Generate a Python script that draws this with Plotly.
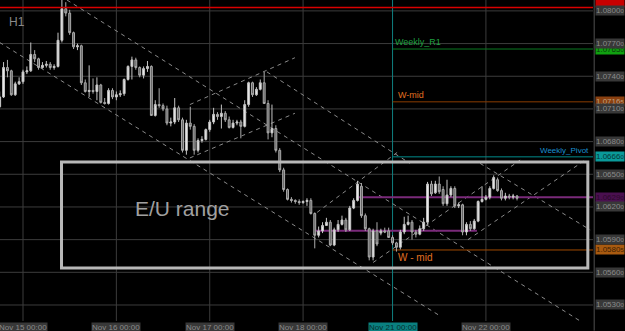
import plotly.graph_objects as go

# ---------------- data (EUR/USD, H1) ----------------
opens = [1.0712, 1.0721, 1.0748, 1.0745, 1.0723, 1.0733, 1.0735, 1.0744, 1.0745, 1.0760,
         1.0756, 1.0748, 1.0750, 1.0751, 1.0748, 1.0749, 1.0773, 1.0802, 1.0798, 1.0780,
         1.0767, 1.0768, 1.0734, 1.0726, 1.0727, 1.0726, 1.0732, 1.0716, 1.0715, 1.0727,
         1.0721, 1.0723, 1.0724, 1.0737, 1.0749, 1.0755, 1.0748, 1.0741, 1.0747, 1.0749,
         1.0704, 1.0714, 1.0713, 1.0710, 1.0697, 1.0698, 1.0711, 1.0700, 1.0672, 1.0697,
         1.0694, 1.0672, 1.0681, 1.0682, 1.0691, 1.0698, 1.0705, 1.0703, 1.0706, 1.0700,
         1.0693, 1.0697, 1.0698, 1.0694, 1.0714, 1.0734, 1.0723, 1.0728, 1.0734, 1.0715,
         1.0688, 1.0692, 1.0672, 1.0654, 1.0636, 1.0627, 1.0626, 1.0625, 1.0624, 1.0625,
         1.0626, 1.0614, 1.0594, 1.0598, 1.0603, 1.0606, 1.0585, 1.0599, 1.0604, 1.0608,
         1.0599, 1.0619, 1.0626, 1.0639, 1.0612, 1.0600, 1.0574, 1.0598, 1.0596, 1.0598,
         1.0598, 1.0592, 1.0587, 1.0583, 1.0597, 1.0604, 1.0606, 1.0597, 1.0595, 1.0600,
         1.0606, 1.0641, 1.0633, 1.0641, 1.0636, 1.0623, 1.0631, 1.0637, 1.0621, 1.0622,
         1.0597, 1.0604, 1.0600, 1.0607, 1.0625, 1.0627, 1.0629, 1.0637, 1.0645, 1.0635,
         1.0628, 1.0630, 1.0629, 1.0630]
highs = [1.0726, 1.0753, 1.0755, 1.0746, 1.0735, 1.0739, 1.0746, 1.0749, 1.0771, 1.0764,
         1.0757, 1.0753, 1.0754, 1.0753, 1.0751, 1.0780, 1.0813, 1.0808, 1.0801, 1.0781,
         1.0770, 1.0769, 1.0737, 1.0750, 1.0738, 1.0739, 1.0733, 1.0720, 1.0729, 1.0729,
         1.0726, 1.0727, 1.0738, 1.0750, 1.0758, 1.0757, 1.0749, 1.0749, 1.0754, 1.0750,
         1.0718, 1.0729, 1.0715, 1.0713, 1.0702, 1.0720, 1.0713, 1.0702, 1.0700, 1.0712,
         1.0696, 1.0683, 1.0685, 1.0692, 1.0700, 1.0711, 1.0707, 1.0714, 1.0708, 1.0703,
         1.0700, 1.0700, 1.0700, 1.0718, 1.0735, 1.0735, 1.0730, 1.0737, 1.0744, 1.0718,
         1.0714, 1.0695, 1.0674, 1.0656, 1.0637, 1.0629, 1.0627, 1.0627, 1.0626, 1.0628,
         1.0628, 1.0615, 1.0602, 1.0606, 1.0610, 1.0608, 1.0601, 1.0608, 1.0612, 1.0610,
         1.0621, 1.0628, 1.0644, 1.0642, 1.0614, 1.0601, 1.0600, 1.0606, 1.0600, 1.0601,
         1.0601, 1.0594, 1.0588, 1.0599, 1.0611, 1.0612, 1.0608, 1.0599, 1.0603, 1.0610,
         1.0643, 1.0644, 1.0644, 1.0648, 1.0639, 1.0645, 1.0639, 1.0639, 1.0624, 1.0623,
         1.0606, 1.0607, 1.0609, 1.0626, 1.0639, 1.0631, 1.0639, 1.0649, 1.0647, 1.0637,
         1.0633, 1.0632, 1.0632, 1.0631]
lows = [1.0711, 1.0720, 1.0739, 1.0722, 1.0722, 1.0732, 1.0733, 1.0742, 1.0744, 1.0753,
        1.0746, 1.0747, 1.0748, 1.0746, 1.0746, 1.0748, 1.0771, 1.0795, 1.0778, 1.0765,
        1.0764, 1.0732, 1.0725, 1.0721, 1.0724, 1.0718, 1.0715, 1.0714, 1.0714, 1.0719,
        1.0718, 1.0721, 1.0722, 1.0736, 1.0737, 1.0746, 1.0739, 1.0738, 1.0744, 1.0704,
        1.0703, 1.0711, 1.0708, 1.0695, 1.0694, 1.0696, 1.0698, 1.0670, 1.0668, 1.0691,
        1.0668, 1.0670, 1.0679, 1.0681, 1.0689, 1.0696, 1.0700, 1.0692, 1.0698, 1.0692,
        1.0692, 1.0695, 1.0683, 1.0693, 1.0712, 1.0721, 1.0722, 1.0727, 1.0715, 1.0682,
        1.0684, 1.0670, 1.0652, 1.0634, 1.0626, 1.0624, 1.0623, 1.0622, 1.0623, 1.0621,
        1.0613, 1.0582, 1.0592, 1.0596, 1.0603, 1.0584, 1.0584, 1.0597, 1.0603, 1.0597,
        1.0598, 1.0618, 1.0625, 1.0610, 1.0598, 1.0571, 1.0571, 1.0584, 1.0594, 1.0596,
        1.0592, 1.0585, 1.0579, 1.0581, 1.0595, 1.0603, 1.0590, 1.0592, 1.0594, 1.0598,
        1.0604, 1.0630, 1.0632, 1.0632, 1.0621, 1.0621, 1.0629, 1.0619, 1.0619, 1.0594,
        1.0594, 1.0598, 1.0599, 1.0606, 1.0624, 1.0626, 1.0627, 1.0636, 1.0634, 1.0626,
        1.0626, 1.0627, 1.0627, 1.0626]
closes = [1.0721, 1.0748, 1.0745, 1.0723, 1.0733, 1.0735, 1.0744, 1.0745, 1.0760, 1.0756,
          1.0748, 1.0750, 1.0751, 1.0748, 1.0749, 1.0773, 1.0802, 1.0798, 1.0780, 1.0767,
          1.0768, 1.0734, 1.0726, 1.0727, 1.0726, 1.0732, 1.0716, 1.0715, 1.0727, 1.0721,
          1.0723, 1.0724, 1.0737, 1.0749, 1.0755, 1.0748, 1.0741, 1.0747, 1.0749, 1.0704,
          1.0714, 1.0713, 1.0710, 1.0697, 1.0698, 1.0711, 1.0700, 1.0672, 1.0697, 1.0694,
          1.0672, 1.0681, 1.0682, 1.0691, 1.0698, 1.0705, 1.0703, 1.0706, 1.0700, 1.0693,
          1.0697, 1.0698, 1.0694, 1.0714, 1.0734, 1.0723, 1.0728, 1.0734, 1.0715, 1.0688,
          1.0692, 1.0672, 1.0654, 1.0636, 1.0627, 1.0626, 1.0625, 1.0624, 1.0625, 1.0626,
          1.0614, 1.0594, 1.0598, 1.0603, 1.0606, 1.0585, 1.0599, 1.0604, 1.0608, 1.0599,
          1.0619, 1.0626, 1.0641, 1.0612, 1.0600, 1.0574, 1.0598, 1.0586, 1.0598, 1.0597,
          1.0592, 1.0587, 1.0583, 1.0597, 1.0604, 1.0606, 1.0597, 1.0595, 1.0600, 1.0606,
          1.0641, 1.0632, 1.0641, 1.0634, 1.0623, 1.0631, 1.0637, 1.0621, 1.0622, 1.0597,
          1.0604, 1.0600, 1.0607, 1.0625, 1.0627, 1.0629, 1.0637, 1.0647, 1.0635, 1.0628,
          1.0630, 1.0629, 1.0630, 1.0628]
bars = list(range(len(opens)))

day_ticks = [6, 30, 54, 78, 101, 125]
day_labels = ["Nov 15 00:00", "Nov 16 00:00", "Nov 17 00:00",
              "Nov 18 00:00", "Nov 21 00:00", "Nov 22 00:00"]
grid_prices = [1.0800, 1.0770, 1.0740, 1.0710, 1.0680, 1.0650,
               1.0620, 1.0590, 1.0560, 1.0530]

# drawn objects (bar index, price)
trend_lines = [
    (17.3, 1.0810, 152.5, 1.0508),
    (0.0, 1.0771, 113.2, 1.0520),
    (48.9, 1.0714, 75.9, 1.0757),
    (48.9, 1.0665, 75.9, 1.0706),
    (68.7, 1.0744, 105.5, 1.0660),
    (81.6, 1.0615, 102.9, 1.0672),
    (96.0, 1.0569, 133.8, 1.0663),
    (120.4, 1.0590, 150.5, 1.0663),
    (123.5, 1.0660, 151.8, 1.0599),
]
range_box = (15.9, 1.06613, 151.2, 1.05640)
red_level = 1.0803
level_names = ["Weekly_R1", "W-mid", "Weekly_Pivot", "W - mid"]
level_prices = [1.0765, 1.07165, 1.0666, 1.05805]
level_colors = ["#0a7a22", "#8a3c00", "#008b8b", "#a04a00"]
level_text_colors = ["#1fa040", "#e07020", "#1a90d0", "#e07020"]
level_start = 101
purple_lines = [(91.6, 1.0629, 152.6), (81.1, 1.05982, 122.7)]

X0, X1 = 0.087, 152.53
Y0, Y1 = 1.05153, 1.0810

fig = go.Figure()
fig.add_trace(go.Candlestick(
    x=bars, open=opens, high=highs, low=lows, close=closes,
    increasing=dict(line=dict(color="#c4c4c4", width=1), fillcolor="#ececec"),
    decreasing=dict(line=dict(color="#ababab", width=1), fillcolor="#5e5e5e"),
    whiskerwidth=0, hoverinfo="skip", showlegend=False))

shapes = []
GRID = "#3c3c3c"
for p in grid_prices:
    shapes.append(dict(type="line", xref="paper", yref="y", x0=0, x1=1, y0=p, y1=p,
                       line=dict(color=GRID, width=1), layer="below"))
for t in day_ticks:
    col = "#0f7f7f" if t == 101 else GRID
    shapes.append(dict(type="line", xref="x", yref="paper", x0=t, x1=t, y0=0, y1=1,
                       line=dict(color=col, width=1), layer="below"))
for (a, pa, b, pb) in trend_lines:
    shapes.append(dict(type="line", xref="x", yref="y", x0=a, y0=pa, x1=b, y1=pb,
                       line=dict(color="#8a8a8a", width=1, dash="4px,4px"), layer="below"))
# level lines
for p, c in zip(level_prices, level_colors):
    shapes.append(dict(type="line", xref="x", yref="y", x0=level_start, x1=X1, y0=p, y1=p,
                       line=dict(color=c, width=1), layer="below"))
for (a, p, b) in purple_lines:
    shapes.append(dict(type="line", xref="x", yref="y", x0=a, x1=b, y0=p, y1=p,
                       line=dict(color="#7a2a7a", width=2), layer="below"))
shapes.append(dict(type="line", xref="paper", yref="y", x0=0, x1=1, y0=red_level, y1=red_level,
                   line=dict(color="#d80000", width=1.5)))
# E/U range box
bx0, by0, bx1, by1 = range_box
shapes.append(dict(type="rect", xref="x", yref="y", x0=bx0, x1=bx1, y0=by0, y1=by1,
                   line=dict(color="#b8b8b8", width=3), fillcolor="rgba(0,0,0,0)"))
# right axis separator
shapes.append(dict(type="line", xref="paper", yref="paper", x0=1.002, x1=1.002, y0=-0.03, y1=1,
                   line=dict(color="#505050", width=1)))

annotations = []
FONT = "Liberation Sans, Arial, sans-serif"


def price_text(p):
    s = f"{p:.5f}"
    return s[:-1] + "<span style='font-size:6px'>" + s[-1] + "</span>"


special = [(1.0808, "#c80000", "#c80000"),
           (1.0765, "#10a010", "#0a3a0a"),
           (1.07165, "#8a4010", "#c0a080"),
           (1.0666, "#0a9a9a", "#063838"),
           (1.0629, "#4a1050", "#2a0a2a"),
           (1.05805, "#a85a10", "#402000")]
for p, bg, fc in special:
    annotations.append(dict(xref="paper", yref="y", x=1.004, y=p, xanchor="left", yanchor="middle",
                            text=price_text(p if p != 1.0808 else red_level), showarrow=False,
                            bgcolor=bg, font=dict(family=FONT, size=8, color=fc), borderpad=0,
                            height=9))
for p in grid_prices:
    annotations.append(dict(xref="paper", yref="y", x=1.004, y=p, xanchor="left", yanchor="middle",
                            text=price_text(p), showarrow=False, bgcolor="#383838",
                            font=dict(family=FONT, size=8, color="#8a8a8a"), borderpad=0,
                            height=9))
for t, lab in zip(day_ticks, day_labels):
    hl = t == 101
    annotations.append(dict(xref="x", yref="paper", x=t, y=-0.002, xanchor="center", yanchor="top",
                            text=lab, showarrow=False, bgcolor="#0a8080" if hl else "#383838",
                            font=dict(family=FONT, size=8, color="#073030" if hl else "#8a8a8a"),
                            borderpad=0, height=9))
# level captions
annotations.append(dict(xref="x", yref="y", x=level_start, y=level_prices[0], xanchor="left",
                        yanchor="bottom", text=level_names[0], showarrow=False,
                        font=dict(family=FONT, size=9, color=level_text_colors[0])))
annotations.append(dict(xref="x", yref="y", x=level_start + 1, y=level_prices[1], xanchor="left",
                        yanchor="bottom", text=level_names[1], showarrow=False,
                        font=dict(family=FONT, size=9, color=level_text_colors[1])))
annotations.append(dict(xref="paper", yref="y", x=0.997, y=level_prices[2], xanchor="right",
                        yanchor="bottom", text=level_names[2], showarrow=False,
                        font=dict(family=FONT, size=8, color=level_text_colors[2])))
annotations.append(dict(xref="x", yref="y", x=level_start + 1, y=level_prices[3], xanchor="left",
                        yanchor="top", text=level_names[3], showarrow=False,
                        font=dict(family=FONT, size=10, color=level_text_colors[3])))
annotations.append(dict(xref="x", yref="y", x=47.0, y=1.0619, xanchor="center", yanchor="middle",
                        text="E/U range", showarrow=False,
                        font=dict(family=FONT, size=21, color="#a0a0a0")))
annotations.append(dict(xref="paper", yref="paper", x=0.012, y=0.93, xanchor="left", yanchor="middle",
                        text="H1", showarrow=False,
                        font=dict(family=FONT, size=12, color="#8a8a8a")))

fig.update_layout(
    width=625, height=331, margin=dict(l=0, r=32, t=0, b=10),
    paper_bgcolor="#000000", plot_bgcolor="#000000",
    showlegend=False, shapes=shapes, annotations=annotations,
    xaxis=dict(range=[X0, X1], showgrid=False, zeroline=False, showticklabels=False,
               rangeslider=dict(visible=False), showline=False),
    yaxis=dict(range=[Y0, Y1], showgrid=False, zeroline=False, showticklabels=False,
               showline=False),
)
fig.write_html("out.html")
